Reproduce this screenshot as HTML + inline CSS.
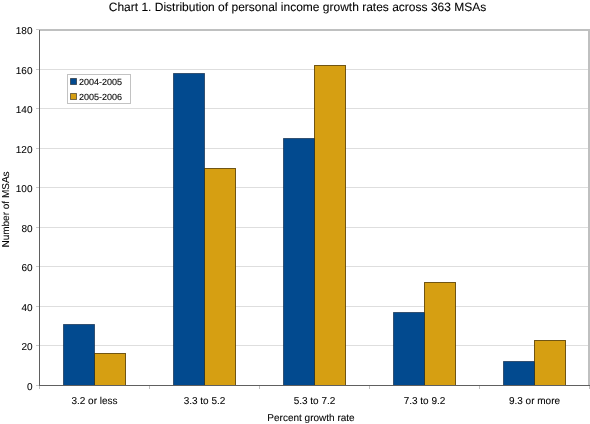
<!DOCTYPE html>
<html><head><meta charset="utf-8"><style>
html,body{margin:0;padding:0;background:#fff;}
svg{display:block;will-change:transform;}
text{font-family:"Liberation Sans", sans-serif;fill:#000;text-rendering:geometricPrecision;stroke:#000;stroke-width:0.08px;}
</style></head><body>
<svg width="590" height="424" viewBox="0 0 590 424">
<line x1="40" y1="345.50" x2="588" y2="345.50" stroke="#dedede" stroke-width="1"/>
<line x1="40" y1="306.50" x2="588" y2="306.50" stroke="#dedede" stroke-width="1"/>
<line x1="40" y1="266.50" x2="588" y2="266.50" stroke="#dedede" stroke-width="1"/>
<line x1="40" y1="227.50" x2="588" y2="227.50" stroke="#dedede" stroke-width="1"/>
<line x1="40" y1="187.50" x2="588" y2="187.50" stroke="#dedede" stroke-width="1"/>
<line x1="40" y1="148.50" x2="588" y2="148.50" stroke="#dedede" stroke-width="1"/>
<line x1="40" y1="108.50" x2="588" y2="108.50" stroke="#dedede" stroke-width="1"/>
<line x1="40" y1="69.50" x2="588" y2="69.50" stroke="#dedede" stroke-width="1"/>
<line x1="39" y1="30" x2="590" y2="30" stroke="#bfc0c0" stroke-width="2"/>
<line x1="589" y1="29" x2="589" y2="385" stroke="#bfc0c0" stroke-width="2"/>
<rect x="63.50" y="324.50" width="31" height="61.00" fill="#024a8f" stroke="#001a3a" stroke-opacity="0.6" stroke-width="1"/>
<rect x="94.50" y="353.50" width="31" height="32.00" fill="#d69f12" stroke="#5a4000" stroke-opacity="0.85" stroke-width="1"/>
<rect x="173.50" y="73.50" width="31" height="312.00" fill="#024a8f" stroke="#001a3a" stroke-opacity="0.6" stroke-width="1"/>
<rect x="204.50" y="168.50" width="31" height="217.00" fill="#d69f12" stroke="#5a4000" stroke-opacity="0.85" stroke-width="1"/>
<rect x="283.50" y="138.50" width="31" height="247.00" fill="#024a8f" stroke="#001a3a" stroke-opacity="0.6" stroke-width="1"/>
<rect x="314.50" y="65.50" width="31" height="320.00" fill="#d69f12" stroke="#5a4000" stroke-opacity="0.85" stroke-width="1"/>
<rect x="393.50" y="312.50" width="31" height="73.00" fill="#024a8f" stroke="#001a3a" stroke-opacity="0.6" stroke-width="1"/>
<rect x="424.50" y="282.50" width="31" height="103.00" fill="#d69f12" stroke="#5a4000" stroke-opacity="0.85" stroke-width="1"/>
<rect x="503.50" y="361.50" width="31" height="24.00" fill="#024a8f" stroke="#001a3a" stroke-opacity="0.6" stroke-width="1"/>
<rect x="534.50" y="340.50" width="31" height="45.00" fill="#d69f12" stroke="#5a4000" stroke-opacity="0.85" stroke-width="1"/>
<line x1="94.5" y1="353.5" x2="94.5" y2="385" stroke="#2e3a34" stroke-width="1"/>
<line x1="204.5" y1="168.5" x2="204.5" y2="385" stroke="#2e3a34" stroke-width="1"/>
<line x1="314.5" y1="138.5" x2="314.5" y2="385" stroke="#2e3a34" stroke-width="1"/>
<line x1="424.5" y1="312.5" x2="424.5" y2="385" stroke="#2e3a34" stroke-width="1"/>
<line x1="534.5" y1="361.5" x2="534.5" y2="385" stroke="#2e3a34" stroke-width="1"/>
<line x1="39.5" y1="30" x2="39.5" y2="386" stroke="#606060" stroke-width="1"/>
<line x1="39" y1="385.5" x2="590" y2="385.5" stroke="#606060" stroke-width="1"/>
<line x1="36" y1="385.50" x2="39" y2="385.50" stroke="#c8c8c8" stroke-width="1"/>
<line x1="36" y1="345.50" x2="39" y2="345.50" stroke="#c8c8c8" stroke-width="1"/>
<line x1="36" y1="306.50" x2="39" y2="306.50" stroke="#c8c8c8" stroke-width="1"/>
<line x1="36" y1="266.50" x2="39" y2="266.50" stroke="#c8c8c8" stroke-width="1"/>
<line x1="36" y1="227.50" x2="39" y2="227.50" stroke="#c8c8c8" stroke-width="1"/>
<line x1="36" y1="187.50" x2="39" y2="187.50" stroke="#c8c8c8" stroke-width="1"/>
<line x1="36" y1="148.50" x2="39" y2="148.50" stroke="#c8c8c8" stroke-width="1"/>
<line x1="36" y1="108.50" x2="39" y2="108.50" stroke="#c8c8c8" stroke-width="1"/>
<line x1="36" y1="69.50" x2="39" y2="69.50" stroke="#c8c8c8" stroke-width="1"/>
<line x1="36" y1="29.50" x2="39" y2="29.50" stroke="#c8c8c8" stroke-width="1"/>
<line x1="39.50" y1="386" x2="39.50" y2="389" stroke="#c0c0c0" stroke-width="1"/>
<line x1="149.50" y1="386" x2="149.50" y2="389" stroke="#c0c0c0" stroke-width="1"/>
<line x1="259.50" y1="386" x2="259.50" y2="389" stroke="#c0c0c0" stroke-width="1"/>
<line x1="369.50" y1="386" x2="369.50" y2="389" stroke="#c0c0c0" stroke-width="1"/>
<line x1="479.50" y1="386" x2="479.50" y2="389" stroke="#c0c0c0" stroke-width="1"/>
<line x1="589.50" y1="386" x2="589.50" y2="389" stroke="#c0c0c0" stroke-width="1"/>
<text x="32.5" y="389.60" text-anchor="end" font-size="10">0</text>
<text x="32.5" y="350.10" text-anchor="end" font-size="10">20</text>
<text x="32.5" y="310.60" text-anchor="end" font-size="10">40</text>
<text x="32.5" y="271.10" text-anchor="end" font-size="10">60</text>
<text x="32.5" y="231.60" text-anchor="end" font-size="10">80</text>
<text x="32.5" y="192.10" text-anchor="end" font-size="10">100</text>
<text x="32.5" y="152.60" text-anchor="end" font-size="10">120</text>
<text x="32.5" y="113.10" text-anchor="end" font-size="10">140</text>
<text x="32.5" y="73.60" text-anchor="end" font-size="10">160</text>
<text x="32.5" y="34.10" text-anchor="end" font-size="10">180</text>
<text x="94.50" y="403.8" text-anchor="middle" font-size="10">3.2 or less</text>
<text x="204.50" y="403.8" text-anchor="middle" font-size="10">3.3 to 5.2</text>
<text x="314.50" y="403.8" text-anchor="middle" font-size="10">5.3 to 7.2</text>
<text x="424.50" y="403.8" text-anchor="middle" font-size="10">7.3 to 9.2</text>
<text x="534.50" y="403.8" text-anchor="middle" font-size="10">9.3 or more</text>
<text x="311" y="420.5" text-anchor="middle" font-size="10">Percent growth rate</text>
<text transform="translate(9.1,209.5) rotate(-90)" x="0" y="0" text-anchor="middle" font-size="10">Number of MSAs</text>
<text x="297.5" y="10.5" text-anchor="middle" font-size="12">Chart 1. Distribution of personal income growth rates across 363 MSAs</text>
<rect x="67.5" y="74.5" width="63" height="29" fill="#fff" stroke="#c2c2c2" stroke-width="1"/>
<rect x="70.5" y="78.5" width="6" height="6" fill="#024a8f" stroke="#000" stroke-opacity="0.5" stroke-width="1"/>
<rect x="70.5" y="93.5" width="6" height="6" fill="#d69f12" stroke="#000" stroke-opacity="0.5" stroke-width="1"/>
<text x="79" y="85.2" font-size="9">2004-2005</text>
<text x="79" y="99.8" font-size="9">2005-2006</text>
</svg>
</body></html>
